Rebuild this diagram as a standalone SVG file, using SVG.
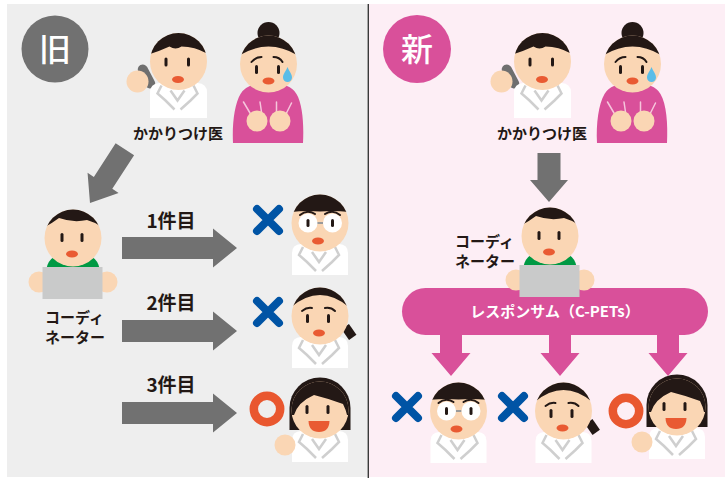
<svg xmlns="http://www.w3.org/2000/svg" xmlns:xlink="http://www.w3.org/1999/xlink" width="725" height="479" viewBox="0 0 725 479">
  <style>
    .skin { fill: #fad6b4; }
    .hair { fill: #231815; }
    .eye { fill: #231815; }
    .mouth { fill: #e95a32; }
    .coat { fill: #ffffff; }
    .lapel { fill: none; stroke: #cfcfcf; stroke-width: 2.5; stroke-linejoin: miter; }
    .brow { fill: none; stroke: #231815; stroke-width: 2; stroke-linecap: round; }
    .arm { fill: none; stroke: #f6c6dc; stroke-width: 1.5; stroke-linecap: round; }
    .gray-arrow { fill: #717171; }
    .pink-arrow { fill: #d9509a; }
    .ng { fill: none; stroke: #0054a5; stroke-width: 8; stroke-linecap: round; }
    .ok { fill: none; stroke: #e9572f; stroke-width: 8.5; }
    .label { font-family: 'Noto Sans CJK JP', 'Noto Sans', sans-serif; font-weight: 700; fill: #231815; }
    .badge { font-family: 'Noto Sans CJK JP', 'Noto Sans', sans-serif; font-weight: 500; fill: #ffffff; }
  </style>
  <defs>
    <clipPath id="head-clip"><circle r="28.5"/></clipPath>

    <!-- family doctor on the phone -->
    <g id="doc-phone">
      <rect x="-37" y="2" width="10" height="26" rx="5" fill="#6f6f6f" transform="rotate(-28 -32 15)"/>
      <path class="coat" d="M-28.5,56.5 V31 Q-28.5,22 -19,21.5 H19 Q28.5,22 28.5,31 V56.5 Z"/>
      <path class="lapel" d="M-17,24 L-21,32 L-13,39 L-4,48 M-8,29 L-1,39 L6,29 M15,24 L19,32 L12,39 L2,48"/>
      <circle class="skin" r="28.5"/>
      <path class="hair" clip-path="url(#head-clip)" d="M-30,-7 Q-20,-10 -9,-15 Q-3,-11 3,-15 Q17,-15 30,-7 V-30 H-30 Z"/>
      <rect class="eye" x="-14" y="-4" width="3" height="9" rx="1.5"/>
      <rect class="eye" x="8.5" y="-4" width="3" height="9" rx="1.5"/>
      <ellipse class="mouth" cx="-0.5" cy="18" rx="6" ry="3.5"/>
      <circle class="skin" cx="-41" cy="20" r="11"/>
    </g>

    <!-- worried patient -->
    <g id="patient">
      <path fill="#d9509a" d="M-35.5,79 C-36.5,60 -34,40 -28,30 Q-22,19 0,18.5 Q22,19 28,30 C34,40 35.5,60 34.5,79 Z"/>
      <path class="arm" d="M-25,38 L-18.5,49 M-8.5,38 L-7,48 M8,38 L8,48 M23,39 L18,49"/>
      <circle class="skin" cx="-11.5" cy="57" r="10.5"/>
      <circle class="skin" cx="11.5" cy="57" r="10.5"/>
      <circle class="hair" cx="0" cy="-31" r="11"/>
      <circle class="skin" r="28.5"/>
      <path class="hair" clip-path="url(#head-clip)" d="M-30,-8 Q0,-27 30,-8 V-30 H-30 Z"/>
      <path class="brow" d="M-17,-2 Q-13,-7 -7,-7 M5,-7 Q11,-7 14,-2"/>
      <rect class="eye" x="-13.5" y="1" width="3" height="9" rx="1.5"/>
      <rect class="eye" x="8.5" y="1" width="3" height="9" rx="1.5"/>
      <ellipse class="mouth" cx="0" cy="17" rx="6" ry="3.5"/>
      <path fill="#5bbde8" d="M19,3 C17,8 14.5,10 14.5,13.5 A4.5,4.5 0 0 0 23.5,13.5 C23.5,10 21,8 19,3 Z"/>
    </g>

    <!-- coordinator at a laptop -->
    <g id="coord">
      <path fill="#009944" d="M-27,32 Q-25,22 -19,19 H19 Q25,22 27,32 Z"/>
      <circle class="skin" cx="-34" cy="44" r="10.5"/>
      <circle class="skin" cx="34" cy="44" r="10.5"/>
      <circle class="skin" r="28.5"/>
      <path class="hair" clip-path="url(#head-clip)" d="M-30,-10 Q-22,-14 -14,-20 Q0,-15 14,-18 Q22,-16 30,-10 V-30 H-30 Z"/>
      <rect class="eye" x="-12.5" y="-5" width="3" height="9" rx="1.5"/>
      <rect class="eye" x="7.5" y="-5" width="3" height="9" rx="1.5"/>
      <ellipse class="mouth" cx="-1" cy="16" rx="6" ry="3.5"/>
      <rect x="-30.5" y="29" width="60" height="32" fill="#c9caca"/>
    </g>

    <!-- white coat shared by the specialist doctors -->
    <g id="coat">
      <path class="coat" d="M-28,52 V30 Q-28,21.5 -19,21 H19 Q28,21.5 28,30 V52 Z"/>
      <path class="lapel" d="M-17,24 L-21,32 L-13,39 L-4,48 M-8,29 L-1,39 L6,29 M15,24 L19,32 L12,39 L2,48"/>
    </g>

    <!-- doctor with glasses -->
    <g id="doc-glasses">
      <use xlink:href="#coat"/>
      <circle class="skin" r="28.5"/>
      <path class="hair" clip-path="url(#head-clip)" d="M-30,-11 Q-15,-12.5 0,-11.5 Q15,-12.5 30,-11 V-30 H-30 Z"/>
      <path class="brow" d="M-20,-8 Q-13,-14 -5,-9 M5,-9 Q13,-14 20,-8"/>
      <line x1="-3" y1="0" x2="3" y2="0" stroke="#9a9a9a" stroke-width="2"/>
      <circle cx="-12" cy="0" r="9.5" fill="#ffffff"/>
      <circle cx="12.5" cy="0" r="9.5" fill="#ffffff"/>
      <rect class="eye" x="-13.5" y="-4" width="3" height="8" rx="1.5"/>
      <rect class="eye" x="11" y="-4" width="3" height="8" rx="1.5"/>
      <ellipse class="mouth" cx="-2" cy="18" rx="6" ry="3.5"/>
    </g>

    <!-- doctor with ponytail -->
    <g id="doc-ponytail">
      <use xlink:href="#coat"/>
      <rect class="hair" x="24.5" y="9.5" width="9" height="13" transform="rotate(-35 29 16)"/>
      <circle class="skin" r="28.5"/>
      <path class="hair" clip-path="url(#head-clip)" d="M-30,-8 Q0,-34 30,-8 V-30 H-30 Z"/>
      <path class="brow" d="M-18,-5 Q-13,-9 -8,-8 M5,-8 Q11,-9 15,-5"/>
      <rect class="eye" x="-14" y="-2" width="3" height="9" rx="1.5"/>
      <rect class="eye" x="7" y="-2" width="3" height="9" rx="1.5"/>
      <ellipse class="mouth" cx="-1" cy="17" rx="6" ry="3.5"/>
    </g>

    <!-- smiling doctor with bob hair -->
    <g id="doc-bob">
      <use xlink:href="#coat"/>
      <path class="hair" d="M-30.5,20 V-2 A30.5,30.5 0 0 1 30.5,-2 V20 Z"/>
      <circle class="skin" r="28.5"/>
      <path class="hair" clip-path="url(#head-clip)" d="M-30,5 L-26,5 Q-22,-8 -6,-15 Q10,-11 23,-6 Q26,0 27,5 L30,5 V-30 H-30 Z"/>
      <rect class="eye" x="-14.5" y="-5" width="3" height="9" rx="1.5"/>
      <rect class="eye" x="6.5" y="-5" width="3" height="9" rx="1.5"/>
      <path class="mouth" d="M-11.5,11 H9.5 Q9,22 -1,22 Q-11,22 -11.5,11 Z"/>
      <circle class="skin" cx="-35" cy="35" r="10.5"/>
    </g>

    <path id="mark-ng" class="ng" d="M-11,-11 L11,11 M11,-11 L-11,11"/>
    <circle id="mark-ok" class="ok" r="13.2"/>
  </defs>

  <!-- panels -->
  <rect x="7" y="4" width="361" height="473" fill="#eeeeee"/>
  <rect x="369" y="4" width="356" height="473" fill="#fdeef5"/>
  <line x1="368.3" y1="4" x2="368.3" y2="478" stroke="#3a3a3a" stroke-width="1.4"/>

  <!-- arrows -->
  <g id="connectors">
    <path class="gray-arrow" transform="translate(90 203) rotate(33)" d="M-11,-64 H11 V-24 H18.5 L0,0 L-18.5,-24 H-11 Z"/>
    <path class="gray-arrow" d="M122,237 H213 V228.5 L237,248 L213,267.5 V259 H122 Z"/>
    <path class="gray-arrow" d="M122,320 H213 V311.5 L237,331 L213,350.5 V342 H122 Z"/>
    <path class="gray-arrow" d="M122,402 H213 V393.5 L237,413 L213,432.5 V424 H122 Z"/>
    <path class="gray-arrow" d="M537.5,153 H560.5 V180 H568 L549,202 L530,180 H537.5 Z"/>
    <path class="pink-arrow" d="M440,330 H462 V353 H470.5 L451,376 L431.5,353 H440 Z"/>
    <path class="pink-arrow" d="M549,330 H571 V353 H579.5 L560,376 L540.5,353 H549 Z"/>
    <path class="pink-arrow" d="M657,330 H679 V353 H687.5 L668,376 L648.5,353 H657 Z"/>
    <text class="label" x="171" y="228" font-size="19" text-anchor="middle">1件目</text>
    <text class="label" x="171" y="310" font-size="19" text-anchor="middle">2件目</text>
    <text class="label" x="171" y="392" font-size="19" text-anchor="middle">3件目</text>
  </g>

  <!-- old flow -->
  <g id="badge-old">
    <circle cx="55" cy="49" r="33.5" fill="#717171"/>
    <text class="badge" x="55" y="61" font-size="32" text-anchor="middle">旧</text>
  </g>
  <g id="old-family-doctor">
    <use xlink:href="#doc-phone" transform="translate(178.5 61.5)"/>
    <text class="label" x="178" y="139" font-size="15" text-anchor="middle">かかりつけ医</text>
  </g>
  <g id="old-patient"><use xlink:href="#patient" transform="translate(268.5 64)"/></g>
  <g id="old-coordinator">
    <use xlink:href="#coord" transform="translate(73 238)"/>
    <text class="label" x="45" y="323" font-size="15">コーディ</text>
    <text class="label" x="45" y="343" font-size="15">ネーター</text>
  </g>
  <g id="old-doctor-1">
    <use xlink:href="#mark-ng" transform="translate(268 220)"/>
    <use xlink:href="#doc-glasses" transform="translate(320 223)"/>
  </g>
  <g id="old-doctor-2">
    <use xlink:href="#mark-ng" transform="translate(268 312)"/>
    <use xlink:href="#doc-ponytail" transform="translate(320 316)"/>
  </g>
  <g id="old-doctor-3">
    <use xlink:href="#mark-ok" transform="translate(267 409)"/>
    <use xlink:href="#doc-bob" transform="translate(320 410)"/>
  </g>

  <!-- new flow -->
  <g id="badge-new">
    <circle cx="417" cy="49" r="34" fill="#d9509a"/>
    <text class="badge" x="417" y="61" font-size="32" text-anchor="middle">新</text>
  </g>
  <g id="new-family-doctor">
    <use xlink:href="#doc-phone" transform="translate(542.5 61.5)"/>
    <text class="label" x="542" y="139" font-size="15" text-anchor="middle">かかりつけ医</text>
  </g>
  <g id="new-patient"><use xlink:href="#patient" transform="translate(632.5 64)"/></g>
  <g id="responsum">
    <rect x="402" y="288" width="306" height="47" rx="23.5" fill="#d9509a"/>
    <text x="555" y="317" font-family="'Noto Sans CJK JP', 'Noto Sans', sans-serif" font-weight="700" font-size="15" fill="#ffffff" text-anchor="middle">レスポンサム（C-PETs）</text>
  </g>
  <g id="new-coordinator">
    <use xlink:href="#coord" transform="translate(550 236)"/>
    <text class="label" x="455" y="247" font-size="15">コーディ</text>
    <text class="label" x="455" y="267" font-size="15">ネーター</text>
  </g>
  <g id="new-doctor-1">
    <use xlink:href="#mark-ng" transform="translate(407 407)"/>
    <use xlink:href="#doc-glasses" transform="translate(458.5 411)"/>
  </g>
  <g id="new-doctor-2">
    <use xlink:href="#mark-ng" transform="translate(513 407)"/>
    <use xlink:href="#doc-ponytail" transform="translate(563.5 411)"/>
  </g>
  <g id="new-doctor-3">
    <use xlink:href="#mark-ok" transform="translate(626 411)"/>
    <use xlink:href="#doc-bob" transform="translate(677 407)"/>
  </g>
</svg>
